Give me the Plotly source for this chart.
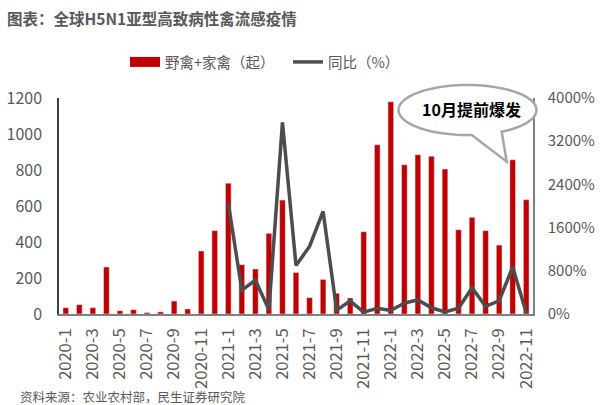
import math
import plotly.graph_objects as go

months = ["2020-%d" % m for m in range(1, 13)] + ["2021-%d" % m for m in range(1, 13)] + ["2022-%d" % m for m in range(1, 12)]

outbreaks = [35, 52, 35, 261, 18, 24, 8, 12, 72, 28, 350, 463,
             727, 274, 250, 448, 633, 231, 91, 192, 115, 89, 457, 940,
             1179, 829, 885, 877, 805, 468, 537, 463, 383, 857, 635]

yoy_months = months[12:]
yoy = [2050, 440, 625, 78, 3550, 900, 1250, 1900, 72, 240, 35, 104,
       65, 203, 260, 115, 40, 107, 485, 141, 245, 870, 25]

title_text = "图表：全球H5N1亚型高致病性禽流感疫情"
source_text = "资料来源：农业农村部，民生证券研究院"
callout_text = "10月提前爆发"

W, H = 609, 405
L, R, T, B = 59, 76, 98, 91
PW, PH = W - L - R, H - T - B
FONT = "Noto Sans CJK SC"
GRAY = "#595959"


def to_paper(px, py):
    return (px - L) / PW, (H - B - py) / PH


fig = go.Figure()
fig.add_trace(go.Bar(x=months, y=outbreaks, marker_color="#C00000", width=0.42,
                     name="野禽+家禽（起）", showlegend=False))
fig.add_trace(go.Scatter(x=[None], y=[None], mode="lines", line=dict(color="#C00000", width=10),
                         name="野禽+家禽（起）", legend="legend"))
fig.add_trace(go.Scatter(x=yoy_months, y=yoy, mode="lines", yaxis="y2",
                         line=dict(color="#4D4D4D", width=3.5), name="同比（%）", legend="legend2"))

# callout balloon (pixel geometry -> paper coords)
cx, cy, a, b = 467.5, 110, 69, 25
tip = (506.7, 161.7)
th1 = math.degrees(math.acos((471.7 - cx) / a))
th2 = math.degrees(math.acos((501.7 - cx) / a)) + 360
pts = []
n = 80
for i in range(n + 1):
    th = math.radians(th1 + (th2 - th1) * i / n)
    pts.append(to_paper(cx + a * math.cos(th), cy + b * math.sin(th)))
pts.append(to_paper(*tip))
path = "M " + " L ".join("%.5f,%.5f" % p for p in pts) + " Z"
fig.add_shape(type="path", path=path, xref="paper", yref="paper",
              fillcolor="white", line=dict(color="#A6A6A6", width=2.5), layer="above")
ax, ay = to_paper(471, 109)
fig.add_annotation(x=ax, y=ay, xref="paper", yref="paper", xanchor="center", yanchor="middle",
                   text="<b>%s</b>" % callout_text,
                   showarrow=False, font=dict(size=16, color="black", family=FONT))

tx, ty = to_paper(5, 18)
fig.add_annotation(x=tx, y=ty, xref="paper", yref="paper", xanchor="left", yanchor="middle",
                   text="<b>%s</b>" % title_text, showarrow=False,
                   font=dict(size=15.5, color=GRAY, family=FONT))
sx, sy = to_paper(18, 396)
fig.add_annotation(x=sx, y=sy, xref="paper", yref="paper", xanchor="left", yanchor="middle",
                   text=source_text, showarrow=False, font=dict(size=12.5, color=GRAY, family=FONT))

l1x, ly = to_paper(125, 62)
l2x, _ = to_paper(288, 62)
fig.update_layout(
    width=W, height=H,
    margin=dict(l=L, r=R, t=T, b=B, autoexpand=False),
    paper_bgcolor="white", plot_bgcolor="white",
    font=dict(family=FONT, color=GRAY, size=16),
    bargap=0.58,
    xaxis=dict(type="category", categoryorder="array", categoryarray=months,
               tickvals=months[::2], ticktext=months[::2], tickangle=-90, automargin=False,
               tickfont=dict(size=16.5, color=GRAY), showline=True, linecolor="#808080", linewidth=1.5,
               ticks="", showgrid=False, range=[-0.5, len(months) - 0.5], ticklabelstandoff=6),
    yaxis=dict(range=[0, 1200], dtick=200, showgrid=False, showline=True, linecolor="#404040",
               linewidth=1.5, ticks="", tickfont=dict(size=16, color=GRAY), zeroline=False,
               automargin=False, ticklabelstandoff=12),
    yaxis2=dict(range=[0, 4000], dtick=800, overlaying="y", side="right", showgrid=False,
                showline=True, linecolor="#808080", linewidth=1.5, ticks="", ticksuffix="%",
                tickfont=dict(size=15, color=GRAY), zeroline=False, automargin=False,
                ticklabelstandoff=10),
    legend=dict(orientation="h", x=l1x, xanchor="left", y=ly, yanchor="middle",
                font=dict(size=14.5, color=GRAY, family=FONT), bgcolor="rgba(0,0,0,0)"),
    legend2=dict(orientation="h", x=l2x, xanchor="left", y=ly, yanchor="middle",
                 font=dict(size=14.5, color=GRAY, family=FONT), bgcolor="rgba(0,0,0,0)"),
)

fig.write_html("out.html", config={"displayModeBar": False},
               post_script="document.body.style.margin='0';document.body.style.overflow='hidden';")
